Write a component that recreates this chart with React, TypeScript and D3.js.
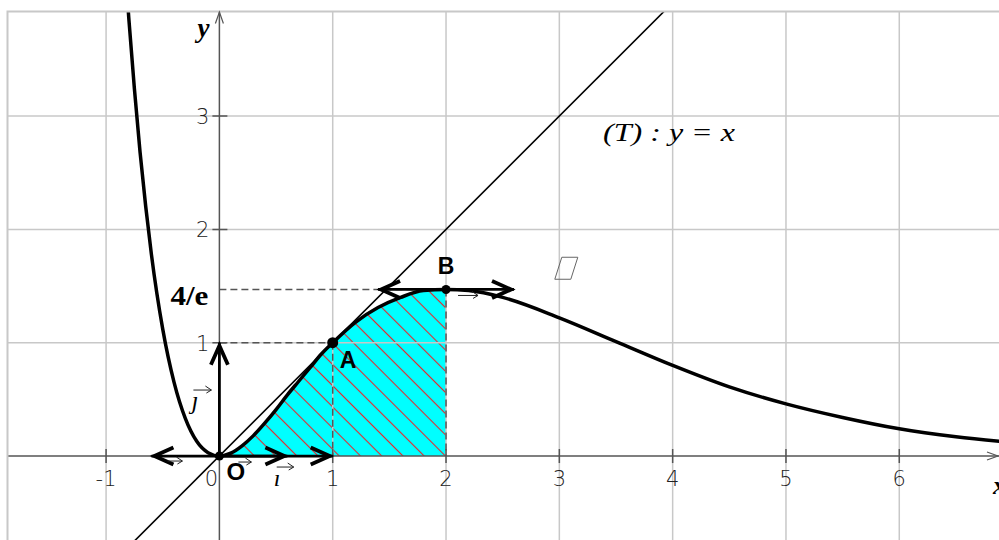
import React, { useRef, useEffect } from 'react';
import * as d3 from 'd3';

// points (x, y)
const curveX = [-0.85, -0.8, -0.75, -0.7, -0.65, -0.6, -0.5, -0.4, -0.3, -0.2, -0.1, 0, 0.1, 0.2, 0.3, 0.4, 0.5, 0.6, 0.7, 0.8, 0.9, 1, 1.2, 1.4, 1.6, 1.8, 2, 2.2, 2.5, 3, 3.5, 4, 4.5, 5, 5.5, 6, 6.5, 7];
const curveY = [4.6, 3.87, 3.24, 2.68, 2.2, 1.78, 1.12, 0.65, 0.33, 0.13, 0.03, 0, 0.025, 0.09, 0.18, 0.29, 0.41, 0.54, 0.66, 0.78, 0.9, 1, 1.18, 1.31, 1.4, 1.46, 1.47, 1.46, 1.4, 1.22, 1.01, 0.8, 0.61, 0.46, 0.34, 0.24, 0.17, 0.12];

// tangent (T) : y = x
const tangentX = [-1, 4.2];
const tangentY = [-1, 4.2];

const gridXs = [-1, 1, 2, 3, 4, 5, 6];
const gridYs = [1, 2, 3];
const xTickValues = [-1, 0, 1, 2, 3, 4, 5, 6];
const xTickLabels = ['-1', '0', '1', '2', '3', '4', '5', '6'];
const yTickValues = [1, 2, 3];
const yTickLabels = ['1', '2', '3'];

const fourOverE = 1.47;
const pointO = [0, 0];
const pointA = [1, 1];
const pointB = [2, fourOverE];
const shadeFrom = 0;
const shadeTo = 2;
const halfTangent = 0.6;

function App() {
  const svgRef = useRef<SVGSVGElement>(null);

  useEffect(() => {
    const svg = d3.select(svgRef.current);
    svg.selectAll('*').remove();

    const width = 999;
    const height = 540;
    const left = 7.5;
    const top = 11.5;

    const x = d3.scaleLinear().domain([-1.87, 6.88]).range([left, width]);
    const y = d3.scaleLinear().domain([-0.741, 3.923]).range([height, top]);

    const defs = svg.append('defs');
    defs.append('clipPath').attr('id', 'plot')
      .append('rect').attr('x', left).attr('y', top).attr('width', width).attr('height', height);

    // cyan with red diagonal hatching
    const pat = defs.append('pattern')
      .attr('id', 'hatch')
      .attr('patternUnits', 'userSpaceOnUse')
      .attr('width', 15).attr('height', 15)
      .attr('patternTransform', 'rotate(45)');
    pat.append('rect').attr('width', 15).attr('height', 15).attr('fill', '#00ffff');
    pat.append('line')
      .attr('x1', 0).attr('x2', 15).attr('y1', 7.5).attr('y2', 7.5)
      .attr('stroke', '#e8262a').attr('stroke-width', 1.1);

    const g = svg.append('g').attr('clip-path', 'url(#plot)');

    const pts: [number, number][] = curveX.map((v, i) => [v, curveY[i]]);
    const shaded = pts.filter(p => p[0] >= shadeFrom && p[0] <= shadeTo);

    // shaded area under the curve
    g.append('path')
      .datum(shaded)
      .attr('fill', 'url(#hatch)')
      .attr('d', d3.area<[number, number]>()
        .x(d => x(d[0]))
        .y0(y(0))
        .y1(d => y(d[1]))
        .curve(d3.curveMonotoneX));

    // grid
    g.selectAll('.gx').data(gridXs).enter().append('line')
      .attr('x1', d => x(d)).attr('x2', d => x(d))
      .attr('y1', top).attr('y2', height)
      .attr('stroke', '#c8c8c8').attr('stroke-width', 1.5);
    g.selectAll('.gy').data(gridYs).enter().append('line')
      .attr('x1', left).attr('x2', width)
      .attr('y1', d => y(d)).attr('y2', d => y(d))
      .attr('stroke', '#c8c8c8').attr('stroke-width', 1.5);

    // frame
    svg.append('path')
      .attr('d', `M${left},${height} V${top} H${width}`)
      .attr('fill', 'none').attr('stroke', '#c8c8c8').attr('stroke-width', 2);

    // dashed guides to A and B
    const dashed = [
      [[0, pointA[1]], pointA], [pointA, [pointA[0], 0]],
      [[0, pointB[1]], pointB], [pointB, [pointB[0], 0]],
    ];
    g.selectAll('.dash').data(dashed).enter().append('line')
      .attr('x1', d => x(d[0][0])).attr('y1', d => y(d[0][1]))
      .attr('x2', d => x(d[1][0])).attr('y2', d => y(d[1][1]))
      .attr('stroke', '#555').attr('stroke-width', 1.5)
      .attr('stroke-dasharray', '7,4');

    // axes
    const axisColor = '#555';
    g.append('line')
      .attr('x1', left).attr('x2', width).attr('y1', y(0)).attr('y2', y(0))
      .attr('stroke', axisColor).attr('stroke-width', 1.5);
    g.append('line')
      .attr('x1', x(0)).attr('x2', x(0)).attr('y1', height).attr('y2', top)
      .attr('stroke', axisColor).attr('stroke-width', 1.5);
    // thin axis arrow tips
    svg.append('path')
      .attr('d', `M${x(0) - 4},${top + 12} L${x(0)},${top + 0.5} L${x(0) + 4},${top + 12}`)
      .attr('fill', 'none').attr('stroke', axisColor).attr('stroke-width', 1.2);
    svg.append('path')
      .attr('d', `M${width - 12},${y(0) - 4} L${width - 1},${y(0)} L${width - 12},${y(0) + 4}`)
      .attr('fill', 'none').attr('stroke', axisColor).attr('stroke-width', 1.2);

    // ticks
    g.selectAll('.tx').data(xTickValues.filter(v => v !== 0)).enter().append('line')
      .attr('x1', d => x(d)).attr('x2', d => x(d))
      .attr('y1', y(0) - 7).attr('y2', y(0) + 7)
      .attr('stroke', axisColor).attr('stroke-width', 1.5);
    g.selectAll('.ty').data(yTickValues).enter().append('line')
      .attr('x1', x(0) - 7).attr('x2', x(0) + 8)
      .attr('y1', d => y(d)).attr('y2', d => y(d))
      .attr('stroke', axisColor).attr('stroke-width', 1.5);

    const tickFont = '"DejaVu Sans", sans-serif';
    svg.selectAll('.lx').data(xTickValues).enter().append('text')
      .attr('x', d => x(d) - (d === 0 ? 8 : 0))
      .attr('y', y(0) + 30)
      .attr('text-anchor', 'middle')
      .attr('font-family', tickFont).attr('font-weight', 200)
      .attr('font-size', 21).attr('fill', '#222')
      .text((d, i) => xTickLabels[i]);
    svg.selectAll('.ly').data(yTickValues).enter().append('text')
      .attr('x', x(0) - 10)
      .attr('y', d => y(d) + 8)
      .attr('text-anchor', 'end')
      .attr('font-family', tickFont).attr('font-weight', 200)
      .attr('font-size', 21).attr('fill', '#222')
      .text((d, i) => yTickLabels[i]);

    // tangent line (T)
    g.append('line')
      .attr('x1', x(tangentX[0])).attr('y1', y(tangentY[0]))
      .attr('x2', x(tangentX[1])).attr('y2', y(tangentY[1]))
      .attr('stroke', '#000').attr('stroke-width', 1.6);

    // the curve
    g.append('path')
      .datum(pts)
      .attr('fill', 'none')
      .attr('stroke', '#000')
      .attr('stroke-width', 3.5)
      .attr('d', d3.line<[number, number]>()
        .x(d => x(d[0]))
        .y(d => y(d[1]))
        .curve(d3.curveMonotoneX));

    // thick arrows
    const head = (px: number, py: number, angle: number) => {
      svg.append('path')
        .attr('d', 'M-22,-8.5 L-3,0 L-22,8.5')
        .attr('transform', `translate(${px},${py}) rotate(${angle})`)
        .attr('fill', 'none').attr('stroke', '#000')
        .attr('stroke-width', 3.8).attr('stroke-linejoin', 'miter');
    };
    const arrow = (a: number[], b: number[], both: boolean) => {
      const x1 = x(a[0]), y1 = y(a[1]), x2 = x(b[0]), y2 = y(b[1]);
      svg.append('line')
        .attr('x1', x1).attr('y1', y1).attr('x2', x2).attr('y2', y2)
        .attr('stroke', '#000').attr('stroke-width', 2.8);
      const ang = Math.atan2(y2 - y1, x2 - x1) * 180 / Math.PI;
      head(x2, y2, ang);
      if (both) head(x1, y1, ang + 180);
    };
    arrow(pointO, [1, 0], false);
    arrow(pointO, [0, 1], false);
    arrow([pointO[0] - halfTangent, pointO[1]], [pointO[0] + halfTangent, pointO[1]], true);
    arrow([pointB[0] - halfTangent, pointB[1]], [pointB[0] + halfTangent, pointB[1]], true);

    // small thin arrows
    const smallArrow = (sx: number, sy: number, len: number) => {
      svg.append('path')
        .attr('d', `M${sx},${sy} h${len} M${sx + len - 6},${sy - 4} L${sx + len},${sy} L${sx + len - 5},${sy + 3}`)
        .attr('fill', 'none').attr('stroke', '#222').attr('stroke-width', 1);
    };
    smallArrow(x(0) - 52, y(0) + 5, 15);
    smallArrow(x(0) + 19, y(0) + 6, 13);
    smallArrow(x(pointB[0]) + 12, y(pointB[1]) + 6, 20);
    smallArrow(x(1) - 56, y(0) + 11, 17);
    smallArrow(x(0) - 26, y(0) - 66, 18);

    // odd little parallelogram
    const px0 = x(2.96), py0 = y(1.56);
    svg.append('path')
      .attr('d', `M${px0},${py0} l16,0 l7,-22 l-16,0 Z`)
      .attr('fill', 'none').attr('stroke', '#666').attr('stroke-width', 1);

    // points
    [[pointO, 4.5], [pointA, 5.5], [pointB, 4.5]].forEach(([p, r]: any) => {
      svg.append('circle').attr('cx', x(p[0])).attr('cy', y(p[1])).attr('r', r).attr('fill', '#000');
    });

    // labels
    const serif = '"Liberation Serif", "Times New Roman", serif';
    const sans = '"Liberation Sans", Arial, sans-serif';
    const label = (tx: number, ty: number, s: string, opts: any) => {
      const t = svg.append('text')
        .attr('x', tx).attr('y', ty)
        .attr('font-family', opts.family)
        .attr('font-size', opts.size)
        .attr('font-weight', opts.weight || 'normal')
        .attr('font-style', opts.style || 'normal')
        .attr('text-anchor', opts.anchor || 'start')
        .attr('fill', '#000')
        .text(s);
      if (opts.len) t.attr('textLength', opts.len).attr('lengthAdjust', 'spacingAndGlyphs');
    };
    label(x(pointA[0]) + 7, y(pointA[1]) + 25, 'A', { family: sans, size: 23, weight: 'bold' });
    label(x(pointB[0]), y(pointB[1]) - 15, 'B', { family: sans, size: 23, weight: 'bold', anchor: 'middle' });
    label(x(0) + 7, y(0) + 24, 'O', { family: sans, size: 24, weight: 'bold' });
    label(x(0) - 11, y(pointB[1]) + 16, '4/e', { family: serif, size: 27, weight: 'bold', anchor: 'end', len: 38 });
    label(x(0) - 22, 37, 'y', { family: serif, size: 27, weight: 'bold', style: 'italic' });
    label(width - 6, y(0) + 38, 'x', { family: serif, size: 26, weight: 'bold', style: 'italic' });
    label(603, 141, '(T) : y = x', { family: serif, size: 26, style: 'italic', len: 132 });
    label(x(1) - 59, y(0) + 30, 'ı', { family: serif, size: 24, style: 'italic' });
    label(x(0) - 28, y(0) - 47, 'ȷ', { family: serif, size: 25, style: 'italic' });
  }, []);

  return (
    <svg
      ref={svgRef}
      width={999}
      height={540}
      style={{ position: 'absolute', left: 0, top: 0, background: '#fff' }}
    ></svg>
  );
}

export default App;
